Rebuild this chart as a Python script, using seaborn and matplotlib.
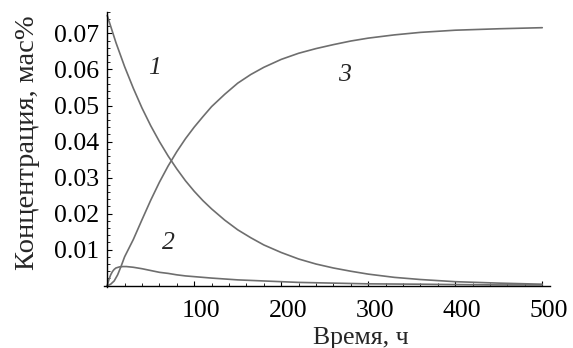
import pandas as pd
import matplotlib
matplotlib.use('Agg')
import matplotlib.pyplot as plt
from matplotlib.ticker import MultipleLocator
from matplotlib.transforms import ScaledTranslation
import seaborn as sns

# values (time in h, concentration in mass %)
t1 = [0, 10, 20, 30, 40, 50, 60, 70, 80, 90, 100, 110, 120, 135, 150, 165, 180, 200, 220, 240,
      260, 280, 300, 330, 360, 400, 450, 500]
c1 = [0.0750, 0.0675, 0.0608, 0.0548, 0.0493, 0.0444, 0.0400, 0.0360, 0.0324, 0.0291, 0.0262,
      0.0236, 0.0213, 0.0182, 0.0155, 0.0133, 0.0113, 0.0092, 0.0074, 0.0060, 0.0049, 0.0040,
      0.0032, 0.0023, 0.0017, 0.0011, 0.0007, 0.0004]

t2 = [0, 2, 4, 6, 8, 10, 14, 18, 22, 30, 40, 50, 60, 70, 80, 90, 100, 120, 150, 180, 220, 260,
      300, 360, 400, 450, 500]
c2 = [0.0, 0.0017, 0.0030, 0.0039, 0.0045, 0.0049, 0.0052, 0.0053, 0.0053, 0.0051, 0.0047,
      0.0042, 0.0037, 0.0034, 0.0030, 0.0027, 0.0025, 0.0021, 0.0016, 0.0013, 0.0009, 0.0007,
      0.0005, 0.0004, 0.0003, 0.0002, 0.0002]

t3 = [0, 4, 8, 12, 16, 20, 25, 30, 40, 50, 60, 70, 80, 90, 100, 110, 120, 135, 150, 165, 180,
      200, 220, 240, 260, 280, 300, 330, 360, 400, 450, 500]
c3 = [0.0, 0.0004, 0.0013, 0.0030, 0.0054, 0.0080, 0.0104, 0.0128, 0.0183, 0.0237, 0.0287,
      0.0332, 0.0372, 0.0408, 0.0440, 0.0469, 0.0497, 0.0531, 0.0562, 0.0586, 0.0606, 0.0628,
      0.0645, 0.0658, 0.0669, 0.0679, 0.0687, 0.0696, 0.0703, 0.0709, 0.0713, 0.0716]

curve_labels = ['1', '2', '3']

sns.set_style('ticks')
plt.rcParams['font.family'] = ['Liberation Serif', 'DejaVu Serif']

fig = plt.figure(figsize=(5.73, 3.48), dpi=100)
ax = fig.add_axes([0.181, 0.174, 0.779, 0.792])

line_color = '#6e6e6e'
for t, c in [(t1, c1), (t2, c2), (t3, c3)]:
    df = pd.DataFrame({'t': t, 'c': c})
    sns.lineplot(data=df, x='t', y='c', ax=ax, color=line_color, linewidth=1.2)

ax.set_xlim(-4, 509)
ax.set_ylim(-0.0005, 0.076)

# axes crossing at the origin, no frame
ax.spines['left'].set_position(('data', 0))
ax.spines['bottom'].set_position(('data', 0))
ax.spines['top'].set_visible(False)
ax.spines['right'].set_visible(False)
for s in ['left', 'bottom']:
    ax.spines[s].set_color('black')
    ax.spines[s].set_linewidth(1.0)

ax.set_xticks([100, 200, 300, 400, 500])
ax.set_yticks([0.01, 0.02, 0.03, 0.04, 0.05, 0.06, 0.07])
ax.set_yticklabels(['0.01', '0.02', '0.03', '0.04', '0.05', '0.06', '0.07'])
ax.xaxis.set_minor_locator(MultipleLocator(20))
ax.yaxis.set_minor_locator(MultipleLocator(0.002))
ax.tick_params(which='major', direction='in', length=3.5, width=0.8, labelsize=18.5, colors='black')
ax.tick_params(which='minor', direction='in', length=2, width=0.6, colors='black')
ax.tick_params(axis='x', which='major', pad=10)
ax.tick_params(axis='y', which='major', pad=6)

# x tick labels sit a little to the right of their ticks in the original
shift = ScaledTranslation(7 / 100, 0, fig.dpi_scale_trans)
for lab in ax.get_xticklabels():
    lab.set_transform(lab.get_transform() + shift)

ax.set_xlabel('Время, ч', fontsize=18.5)
ax.set_ylabel('Концентрация, мас%', fontsize=20.5)
ax.xaxis.set_label_coords(0.576, -0.143)
ax.yaxis.set_label_coords(-0.143, 0.525)

# curve numbers
ax.text(54.8, 0.0605, curve_labels[0], fontsize=18.5, fontstyle='italic', ha='center', va='center')
ax.text(69.8, 0.0119, curve_labels[1], fontsize=18.5, fontstyle='italic', ha='center', va='center')
ax.text(273.2, 0.0585, curve_labels[2], fontsize=18.5, fontstyle='italic', ha='center', va='center')

fig.savefig('out.png', dpi=100)
